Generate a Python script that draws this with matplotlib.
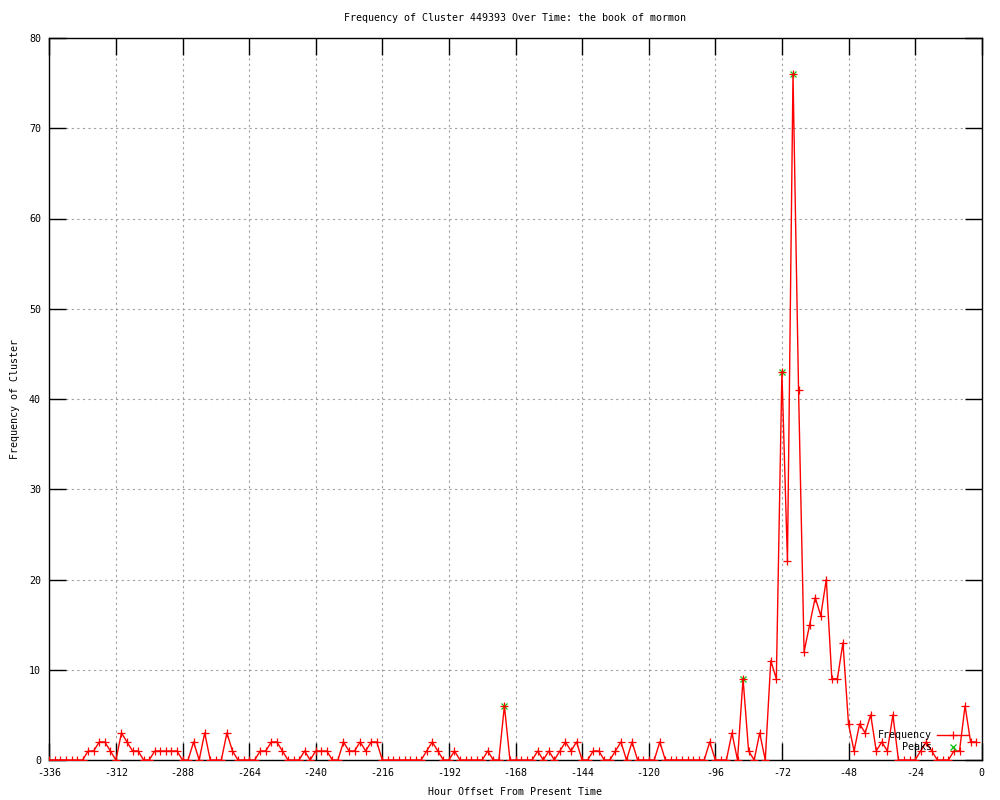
import matplotlib
matplotlib.use("Agg")
import matplotlib.pyplot as plt
import numpy as np

# hour offsets, one point every 2 hours
hours = list(range(-336, 0, 2))
freq = [
    0, 0, 0, 0, 0, 0, 0, 1, 1, 2, 2, 1,      # -336 .. -314
    0, 3, 2, 1, 1, 0, 0, 1, 1, 1, 1, 1,      # -312 .. -290
    0, 0, 2, 0, 3, 0, 0, 0, 3, 1, 0, 0,      # -288 .. -266
    0, 0, 1, 1, 2, 2, 1, 0, 0, 0, 1, 0,      # -264 .. -242
    1, 1, 1, 0, 0, 2, 1, 1, 2, 1, 2, 2,      # -240 .. -218
    0, 0, 0, 0, 0, 0, 0, 0, 1, 2, 1, 0,      # -216 .. -194
    0, 1, 0, 0, 0, 0, 0, 1, 0, 0, 6, 0,      # -192 .. -170
    0, 0, 0, 0, 1, 0, 1, 0, 1, 2, 1, 2,      # -168 .. -146
    0, 0, 1, 1, 0, 0, 1, 2, 0, 2, 0, 0,      # -144 .. -122
    0, 0, 2, 0, 0, 0, 0, 0, 0, 0, 0, 2,      # -120 .. -98
    0, 0, 0, 3, 0, 9, 1, 0, 3, 0, 11, 9,     # -96 .. -74
    43, 22, 76, 41, 12, 15, 18, 16, 20, 9, 9, 13,  # -72 .. -50
    4, 1, 4, 3, 5, 1, 2, 1, 5, 0, 0, 0,      # -48 .. -26
    0, 1, 2, 1, 0, 0, 0, 1, 1, 6, 2, 2,      # -24 .. -2
]
peak_hours = [-172, -86, -72, -68]

xticks = list(range(-336, 1, 24))
yticks = list(range(0, 81, 10))

title = "Frequency of Cluster 449393 Over Time: the book of mormon"
xlabel = "Hour Offset From Present Time"
ylabel = "Frequency of Cluster"

plt.rcParams['font.family'] = ['DejaVu Sans Mono']
plt.rcParams['font.size'] = 7.2
plt.rcParams['axes.unicode_minus'] = False

fig = plt.figure(figsize=(10, 8), dpi=100)
ax = fig.add_axes([0.0493, 0.05, 0.9324, 0.9025])

ax.plot(hours, freq, color='#ff0000', linewidth=1.0, marker='+',
        markersize=6, markeredgewidth=0.9, label='Frequency', zorder=3)
peak_vals = [freq[hours.index(h)] for h in peak_hours]
ax.plot(peak_hours, peak_vals, linestyle='none', color='#00c000', marker='x',
        markersize=5, markeredgewidth=0.9, label='Peaks', zorder=2.9)

ax.set_xlim(-336, 0)
ax.set_ylim(0, 80)
ax.set_xticks(xticks)
ax.set_yticks(yticks)
ax.tick_params(direction='in', length=12, width=1, top=True, right=True,
               labelsize=7.2, pad=6)
ax.grid(True, color='#a0a0a0', linestyle=(0, (2, 3)), linewidth=0.8)
ax.set_axisbelow(True)
for s in ax.spines.values():
    s.set_linewidth(1)

ax.set_title(title, fontsize=7.2, pad=12)
ax.set_xlabel(xlabel, fontsize=7.2, labelpad=6)
ax.set_ylabel(ylabel, fontsize=7.2, labelpad=6.5)

ax.legend(loc='lower right', bbox_to_anchor=(0.991, 0.004), frameon=False,
          markerfirst=False, handlelength=3.1, handletextpad=0.5,
          labelspacing=0.2, borderpad=0, numpoints=1, fontsize=7.2)

fig.savefig("out.png", dpi=100)
